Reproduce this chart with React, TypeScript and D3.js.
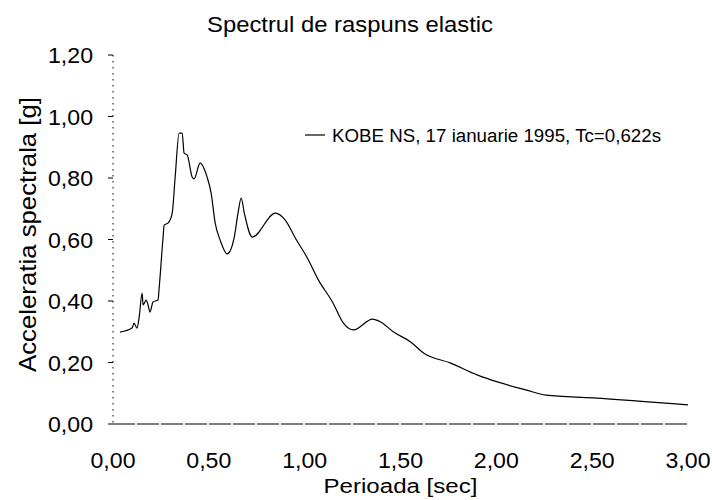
import React from "react";
import * as d3 from "d3";

const periods = [0.037, 0.099, 0.110, 0.125, 0.136, 0.152, 0.157, 0.173, 0.183, 0.193, 0.209, 0.235, 0.240, 0.261, 0.267, 0.288, 0.309, 0.324, 0.345, 0.361, 0.371, 0.387, 0.413, 0.423, 0.455, 0.476, 0.491, 0.512, 0.533, 0.559, 0.596, 0.632, 0.653, 0.669, 0.685, 0.727, 0.847, 0.899, 0.951, 1.014, 1.072, 1.145, 1.202, 1.255, 1.354, 1.396, 1.464, 1.553, 1.620, 1.762, 1.903, 2.010, 2.154, 2.260, 2.504, 3.0];
const accel = [0.299, 0.312, 0.328, 0.312, 0.345, 0.426, 0.387, 0.403, 0.387, 0.364, 0.397, 0.403, 0.436, 0.605, 0.647, 0.654, 0.686, 0.800, 0.946, 0.946, 0.881, 0.875, 0.803, 0.797, 0.849, 0.829, 0.803, 0.751, 0.654, 0.598, 0.553, 0.605, 0.689, 0.735, 0.686, 0.608, 0.686, 0.663, 0.605, 0.540, 0.468, 0.397, 0.328, 0.306, 0.341, 0.332, 0.299, 0.267, 0.231, 0.198, 0.159, 0.136, 0.111, 0.094, 0.085, 0.062];
const xTicks = [0, 0.5, 1, 1.5, 2, 2.5, 3];
const yTicks = [0, 0.2, 0.4, 0.6, 0.8, 1.0, 1.2];
const title = "Spectrul de raspuns elastic";
const xLabel = "Perioada [sec]";
const yLabel = "Acceleratia spectrala [g]";
const legendLabel = "KOBE NS, 17 ianuarie 1995, Tc=0,622s";

const fmt = (v: number) => v.toFixed(2).replace(".", ",");

export default function App() {
  const W = 712, H = 500;
  const left = 113, right = 688, top = 55, bottom = 424;
  const x = d3.scaleLinear().domain([0, 3]).range([left, right]);
  const y = d3.scaleLinear().domain([0, 1.2]).range([bottom, top]);
  const data = periods.map((p, i) => [p, accel[i]] as [number, number]);
  const line = d3.line<[number, number]>().x(d => x(d[0])).y(d => y(d[1])).curve(d3.curveMonotoneX);
  const font = "'Liberation Sans', Arial, sans-serif";
  return (
    <svg width={W} height={H} style={{ position: "absolute", left: 0, top: 0, background: "#fff" }} fontFamily={font}>
      <rect x={0} y={0} width={W} height={H} fill="#fff" />
      <text x={350} y={32} textAnchor="middle" fontSize={22} fill="#000" textLength={286} lengthAdjust="spacingAndGlyphs">{title}</text>
      {/* y axis */}
      <line x1={left} x2={left} y1={top} y2={bottom} stroke="#000" strokeWidth={1} strokeDasharray="1.5,4.5" />
      {yTicks.map(t => (
        <g key={"y" + t}>
          <line x1={left - 5} x2={left} y1={y(t)} y2={y(t)} stroke="#000" strokeWidth={1} />
          <text x={93} y={y(t) + 8} textAnchor="end" fontSize={22} fill="#000" textLength={45} lengthAdjust="spacingAndGlyphs">{fmt(t)}</text>
        </g>
      ))}
      {/* x axis */}
      <line x1={left} x2={right} y1={bottom} y2={bottom} stroke="#000" strokeWidth={1.2} strokeDasharray="22,2" />
      {xTicks.map(t => (
        <text key={"x" + t} x={x(t)} y={468} textAnchor="middle" fontSize={22} fill="#000" textLength={45} lengthAdjust="spacingAndGlyphs">{fmt(t)}</text>
      ))}
      <text x={(left + right) / 2} y={493} textAnchor="middle" fontSize={20} fill="#000" textLength={154} lengthAdjust="spacingAndGlyphs">{xLabel}</text>
      <text transform={`translate(36,${234.5}) rotate(-90)`} textAnchor="middle" fontSize={24} fill="#000" textLength={275} lengthAdjust="spacingAndGlyphs">{yLabel}</text>
      {/* curve */}
      <path d={line(data) || ""} fill="none" stroke="#000" strokeWidth={1.2} />
      {/* legend */}
      <line x1={305} x2={325} y1={135} y2={135} stroke="#000" strokeWidth={1.2} />
      <text x={332} y={142} fontSize={18} fill="#000" textLength={329} lengthAdjust="spacingAndGlyphs">{legendLabel}</text>
    </svg>
  );
}
